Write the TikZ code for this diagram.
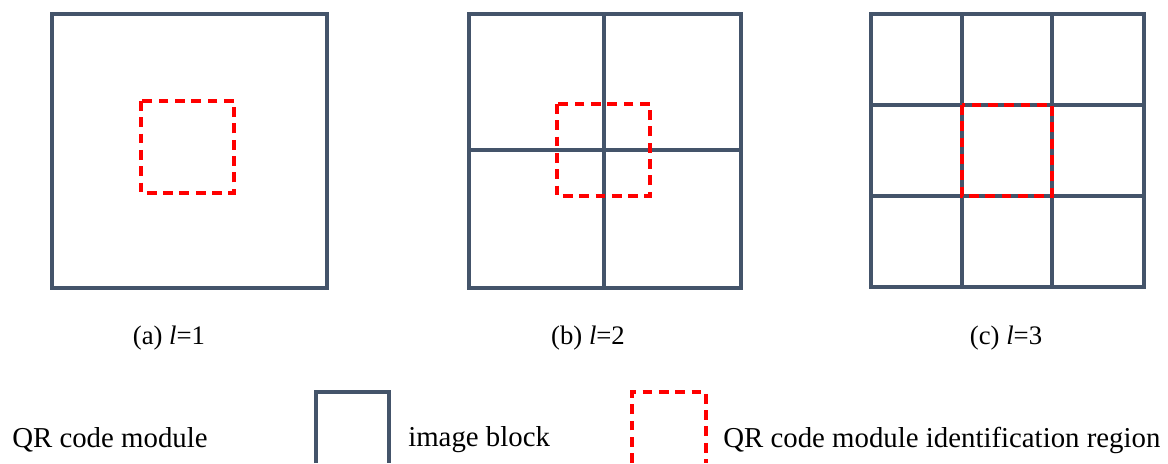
\documentclass[tikz,border=0pt]{standalone}
\usepackage{fontspec}
\setmainfont{Liberation Serif}
\usetikzlibrary{positioning}
\definecolor{blockcolor}{RGB}{68,84,106}
\tikzset{
  blockline/.style={draw=blockcolor,line width=2.6pt},
  regionline/.style={draw=red,line width=2.5pt,dash pattern=on 7pt off 4.6pt},
  caption/.style={font=\fontsize{19}{22}\selectfont,inner sep=0pt},
  legendtext/.style={font=\fontsize{20.5}{24}\selectfont,inner sep=0pt,anchor=west},
}

\begin{document}
\begin{tikzpicture}[x=0.025cm,y=-0.025cm]
    \useasboundingbox (0,0) rectangle (1168,463);
    \draw[blockline] (52,14) rectangle (327,288);
    \draw[regionline] (141,101) rectangle (234,193);
    \draw[blockline] (469,14) rectangle (741,288);
    \draw[blockline] (604,14) -- (604,288);
    \draw[blockline] (469,150) -- (741,150);
    \draw[regionline] (557,104) rectangle (650,196);
    \draw[blockline] (871,14) rectangle (1144,287);
    \foreach \p in {962,1052} {
      \draw[blockline] (\p,14) -- (\p,287);
    }
    \foreach \p in {105,196} {
      \draw[blockline] (871,\p) -- (1144,\p);
    }
    \draw[regionline] (962,105) rectangle (1052,196);
    \node[caption] (capa) at (169,338) {(a) \textit{l}=1};
    \node[caption] (capb) at (588,338) {(b) \textit{l}=2};
    \node[caption] (capc) at (1006,338) {(c) \textit{l}=3};
    \node[legendtext] (qrmodule) at (12,440) {QR code module};
    \draw[blockline] (316,463) -- (316,392) -- (389,392) -- (389,463);
    \node[legendtext] (imgblock) at (408,440) {image block};
    \draw[regionline] (632,463) -- (632,392) -- (706,392) -- (706,463);
    \node[legendtext] (idregion) at (723,440) {QR code module identification region};
\end{tikzpicture}
\end{document}
